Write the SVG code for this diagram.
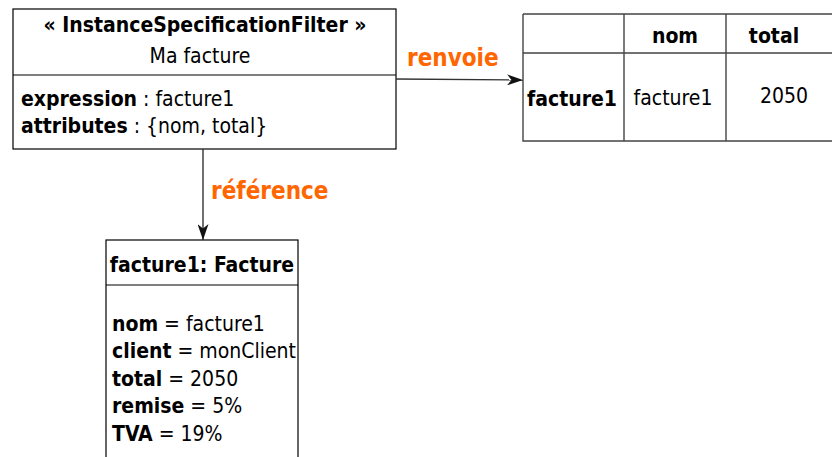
<svg xmlns="http://www.w3.org/2000/svg" width="832" height="457" viewBox="0 0 832 457">
<style>
text{font-family:"DejaVu Sans Condensed","DejaVu Sans",sans-serif;font-size:21px;fill:#000}
.b{font-weight:bold}
.c{text-anchor:middle}
.lbl{fill:#FF6600;font-weight:bold;font-size:24px}
.box{fill:#fff;stroke:#000;stroke-width:1.2}
.ln{stroke:#000;stroke-width:1.2}
.tl{stroke:#444;stroke-width:1.4;fill:none}
.con{stroke:#333;stroke-width:1.4;fill:none}
</style>
<defs>
<marker id="ah" viewBox="0 0 16 11" refX="16" refY="5.5" markerWidth="16" markerHeight="11" markerUnits="userSpaceOnUse" orient="auto">
<path d="M0,0 L16,5.5 L0,11 L4.5,5.5 Z" fill="#111"/>
</marker>
</defs>
<g id="filter">
<rect class="box" x="13" y="9" width="383" height="140"/>
<line class="ln" x1="13" y1="75" x2="396" y2="75"/>
<text class="b c" x="205" y="32">« InstanceSpecificationFilter »</text>
<text class="c" x="200" y="63">Ma facture</text>
<text x="21" y="106"><tspan class="b">expression</tspan> : facture1</text>
<text x="21" y="133"><tspan class="b">attributes</tspan> : {nom, total}</text>
</g>
<g id="table">
<path class="tl" d="M523,14 H840 M523,14 V141 H840 M624,14 V141 M726,14 V141 M523,53 H840"/>
<text class="b c" x="675" y="43">nom</text>
<text class="b c" x="774" y="43">total</text>
<text class="b" x="527" y="106">facture1</text>
<text class="c" x="673" y="105">facture1</text>
<text class="c" x="784" y="103">2050</text>
</g>
<g id="facture1">
<rect class="box" x="106" y="240" width="192" height="230"/>
<line class="ln" x1="106" y1="285" x2="298" y2="285"/>
<text class="b c" x="202" y="272">facture1: Facture</text>
<text x="112" y="331"><tspan class="b">nom</tspan> = facture1</text>
<text x="112" y="358"><tspan class="b">client</tspan> = monClient</text>
<text x="112" y="386"><tspan class="b">total</tspan> = 2050</text>
<text x="112" y="413"><tspan class="b">remise</tspan> = 5%</text>
<text x="112" y="441"><tspan class="b">TVA</tspan> = 19%</text>
</g>
<g id="connectors">
<line class="con" x1="396" y1="79" x2="523" y2="80" marker-end="url(#ah)"/>
<text class="lbl" x="407" y="66">renvoie</text>
<line class="con" x1="203" y1="149" x2="203" y2="240" marker-end="url(#ah)"/>
<text class="lbl" x="211" y="199">référence</text>
</g>
</svg>
